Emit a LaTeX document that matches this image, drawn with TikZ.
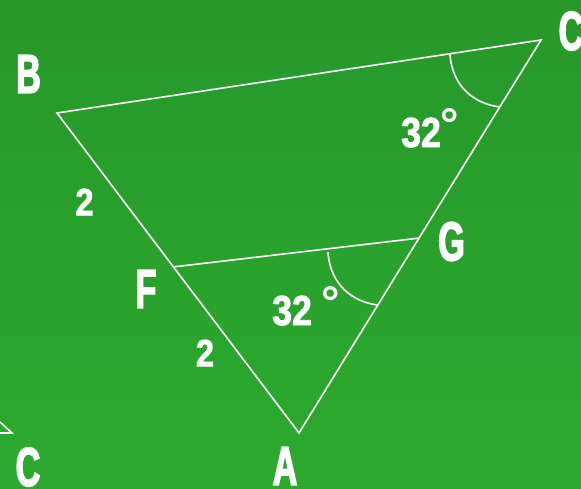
\documentclass[tikz,border=0pt]{standalone}
\usepackage{fontspec}
\newfontfamily\letterfont{Liberation Sans}[FakeStretch=0.62,BoldFeatures={FakeBold=2.5}]
\newfontfamily\digitfont{Liberation Sans}[FakeStretch=0.85,BoldFeatures={FakeBold=2}]
\newfontfamily\plainfont{Liberation Sans}
\newcommand{\degsign}{\raisebox{7pt}{\fontsize{46}{46}\selectfont\plainfont °}}
\usetikzlibrary{positioning,calc}
\definecolor{bgtop}{RGB}{38,152,42}
\definecolor{bgbot}{RGB}{44,170,46}
\tikzset{
vertex/.style = {coordinate},
edge/.style = {draw=white, line width=1.6pt},
letter/.style = {text=white, inner sep=0pt, font=\fontsize{55}{55}\selectfont\letterfont\bfseries},
side/.style = {text=white, inner sep=0pt, font=\fontsize{38}{38}\selectfont\digitfont\bfseries},
anglelabel/.style = {text=white, inner sep=0pt, anchor=base west, font=\fontsize{42}{42}\selectfont\digitfont\bfseries}
}

\begin{document}
\begin{tikzpicture}[x=1pt, y=-1pt]
    \useasboundingbox (0,0) rectangle (581,488);
    \shade [top color=bgtop, bottom color=bgbot] (0,0) rectangle (581,488);

    % vertices
    \coordinate [vertex] (B) at (57,113);
    \coordinate [vertex] (C) at (541,40);
    \coordinate [vertex] (A) at (299,433);
    \coordinate [vertex] (F) at ($(B)!0.481!(A)$);
    \coordinate [vertex] (G) at ($(C)!0.504!(A)$);
    \coordinate [vertex] (p) at (0,422);
    \coordinate [vertex] (q) at (12,433);
    \coordinate [vertex] (r) at (0,433);

    \draw [edge] (B) -- (C) -- (A) -- cycle;
    \draw [edge] (F) -- (G);
    \draw [edge] (p) -- (q) -- (r);

    % angle marks
    \draw [edge] ([shift={(-91,14)}]C) .. controls +(2,33) and +(-25,-3) .. ([shift={(-41,67)}]C);
    \draw [edge] ([shift={(-91,14)}]G) .. controls +(2,33) and +(-25,-3) .. ([shift={(-41,67)}]G);

    % labels
    \node [letter] (labB) at (28.5,74) {B};
    \node [letter] (labC) at (571,31) {C};
    \node [letter] (labA) at (285,466) {A};
    \node [letter] (labC2) at (28,467) {C};
    \node [letter] (labG) at (451.5,241.5) {G};
    \node [letter] (labF) at (146,289) {F};
    \node [side] (sideBF) at (84.5,202) {2};
    \node [side] (sideFA) at (205,353) {2};
    \node [anglelabel] (angC) at (401,147) {32\degsign};
    \node [anglelabel] (angG) at (272,325) {32 \degsign};
\end{tikzpicture}
\end{document}
